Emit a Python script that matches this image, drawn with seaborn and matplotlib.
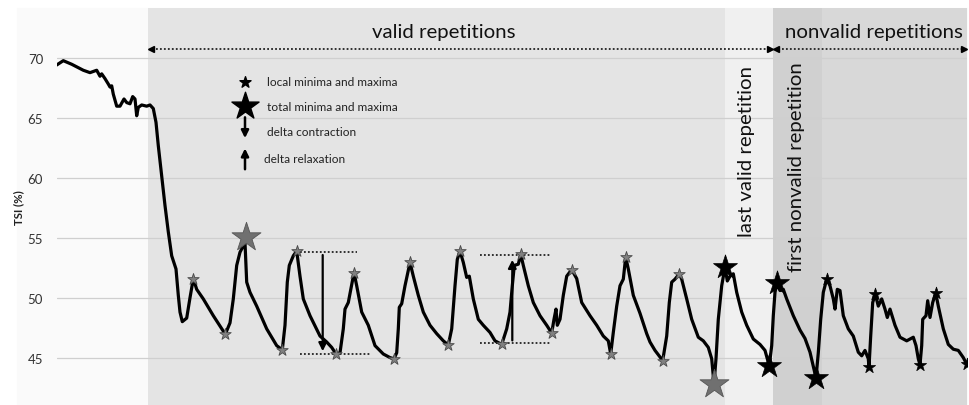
import matplotlib
matplotlib.use('Agg')
import matplotlib.pyplot as plt
import matplotlib.patches as mpatches
import seaborn as sns
import pandas as pd

# TSI trace (time in sample units, TSI in %)
t_vals = [56.7, 63.3, 71.7, 83.3, 90, 96.7, 100, 101.7, 105, 108.3, 110, 111.7, 113.3, 116.7, 120, 124,
          126.7, 130, 132.7, 135, 136.7, 138.3, 141.7, 146.7, 150, 153.3, 156, 158.3, 161.7, 165, 168.3,
          171.7, 176, 178.3, 180, 182.3, 186.7, 190, 193.3, 196.7, 203.3, 213.3, 225.3, 230, 233.3, 236.7,
          240, 245, 246.7, 250, 256.7, 266.7, 276.7, 282.3, 285, 287.3, 289.3, 293.3, 296.7, 300, 303.3,
          310, 320, 326.7, 331.7, 336, 340, 343.3, 345, 348.3, 354, 356.7, 361.7, 368.3, 375, 383.3, 390,
          394, 396.7, 398.3, 399.3, 401.7, 405, 410, 413.3, 418.3, 423.3, 430, 436.7, 443.3, 448.3, 451.7,
          455, 457.3, 460, 463.3, 466.7, 469.3, 473.3, 478.3, 483.3, 490, 495, 501.7, 506.7, 510, 512.3,
          514.3, 518.3, 520.7, 523.3, 528.3, 533.3, 540, 546.7, 551.7, 554, 556, 557.3, 560, 563.3, 566.7,
          571.7, 576.7, 581.7, 590, 596.7, 603.3, 608.3, 610.7, 613.3, 616.7, 620, 623.3, 625.7, 628.3,
          633.3, 640, 646.7, 650, 655, 662.7, 666.7, 669.3, 671.7, 675, 679.3, 681.7, 686.7, 691.7, 698.3,
          703.3, 708.3, 711.7, 713.3, 714, 716, 718.3, 721.7, 725, 727.3, 730, 733.3, 736.7, 741.7, 746.7,
          753.3, 760, 765, 769.3, 771.7, 773.3, 775, 776.7, 780, 783.3, 786.7, 793.3, 800, 805, 810, 816,
          818.3, 820.7, 823.3, 826.7, 830, 833.3, 835, 837.3, 840, 843.3, 848.3, 853.3, 858.3, 861.7, 865,
          868.3, 869, 870.7, 872.7, 875.3, 878.3, 881.7, 885, 887.3, 890, 895, 900, 906.7, 913.3, 916,
          918.3, 920, 921.7, 922.7, 926, 927.7, 930, 932.7, 935.7, 938.3, 943.3, 948.3, 953.3, 958.3,
          963.3, 966.7]
tsi_vals = [69.44, 69.8, 69.5, 69.0, 68.8, 69.0, 68.5, 68.7, 68.3, 67.85, 67.6, 67.7, 67.0, 66.0, 66.0, 66.6,
            66.3, 66.2, 66.8, 66.6, 65.2, 65.9, 66.1, 66.0, 66.1, 65.8, 64.65, 62.7, 60.2, 57.7, 55.5,
            53.5, 52.4, 50.2, 48.8, 48.0, 48.3, 50.0, 51.6, 50.7, 49.9, 48.5, 46.95, 47.9, 49.9, 52.7,
            53.8, 54.6, 51.3, 50.45, 49.3, 47.4, 46.0, 45.65, 47.7, 51.3, 52.7, 53.5, 53.9, 51.8, 49.9,
            48.5, 46.8, 46.3, 45.85, 45.3, 45.4, 47.4, 49.05, 49.6, 52.1, 51.0, 48.8, 47.7, 46.0, 45.3, 45.0,
            44.9, 45.4, 47.4, 49.2, 49.5, 51.0, 52.95, 51.8, 50.2, 48.8, 47.7, 47.0, 46.4, 46.05, 47.4,
            51.0, 53.2, 53.9, 52.95, 51.7, 51.8, 49.9, 48.2, 47.7, 47.1, 46.4, 46.1, 47.4, 48.8, 51.0,
            52.7, 52.8, 53.65, 52.7, 51.0, 49.6, 48.5, 47.7, 47.05, 48.2, 49.05, 47.7, 48.2, 50.2, 51.8,
            52.35, 51.6, 49.6, 48.5, 47.7, 46.8, 46.4, 45.3, 47.1, 49.3, 51.0, 51.55, 53.4, 52.4,
            50.2, 48.7, 47.0, 46.3, 45.6, 44.75, 46.8, 49.6, 51.3, 51.55, 52.0, 51.55, 49.9, 48.2, 46.7,
            46.4, 45.85, 44.9, 43.5, 42.8, 44.9, 48.2, 51.0, 52.55, 51.4, 51.8, 52.0, 50.45, 48.8, 47.7,
            46.55, 46.1, 45.6, 44.3, 46.0, 48.5, 50.45, 51.2, 50.6, 50.7, 49.9, 48.5, 47.3, 46.6, 45.45, 43.3,
            45.4, 48.2, 50.45, 51.55, 51.0, 49.9, 49.05, 50.7, 50.6, 48.5, 47.4, 46.8, 45.45, 45.15, 45.6,
            44.9, 44.2, 46.8, 49.6, 50.3, 49.3, 49.9, 49.05, 48.35, 49.05, 47.7, 46.7, 46.4, 46.7, 46.0,
            44.9, 44.4, 46.0, 48.2, 48.5, 49.75, 48.35, 49.6, 50.4, 49.3, 47.4, 46.1, 45.7, 45.6,
            45.0, 44.45]

# extrema markers
local_t = [193.3, 225.3, 282.3, 296.7, 336, 354, 394, 410, 448.3, 460, 501.7, 520.7, 551.7, 571.7,
           610.7, 625.7, 662.7, 679.3]
local_v = [51.6, 46.95, 45.65, 53.9, 45.3, 52.1, 44.9, 52.95, 46.05, 53.9, 46.1, 53.65, 47.05, 52.35,
           45.3, 53.4, 44.75, 52.0]
total_t = [245.7, 714]
total_v = [55.1, 42.8]
last_t = [725, 769.3, 776.7, 816]
last_v = [52.55, 44.3, 51.2, 43.3]
nonvalid_t = [826.7, 869, 875.3, 920, 935.7, 966.7]
nonvalid_v = [51.55, 44.2, 50.3, 44.4, 50.4, 44.45]

# phase boundaries
valid_start, last_valid_start, nonvalid_start, first_nonvalid_end, t_end = 148, 725, 773, 822, 967

# delta contraction / relaxation
contr_t, contr_top, contr_bot = 322.7, 53.8, 45.3
relax_t, relax_bot, relax_top = 512.3, 46.2, 53.4

sns.set_theme(style='white')
plt.rcParams['font.family'] = ['Lato', 'DejaVu Sans']

fig = plt.figure(figsize=(9.69, 4.06), dpi=100, facecolor='white')
bg = mpatches.Rectangle((17 / 969, 0), (967 - 17) / 969, 1 - 9 / 406,
                        transform=fig.transFigure, color='#fafafa', zorder=-10)
fig.add_artist(bg)
ax = fig.add_axes([57 / 969, 0, (967 - 57) / 969, 1 - 9 / 406])
ax.set_facecolor('#fafafa')

ax.axvspan(valid_start, last_valid_start, color='#e4e4e4', lw=0, zorder=0)
ax.axvspan(last_valid_start, nonvalid_start, color='#f0f0f0', lw=0, zorder=0)
ax.axvspan(nonvalid_start, first_nonvalid_end, color='#d0d0d0', lw=0, zorder=0)
ax.axvspan(first_nonvalid_end, t_end, color='#d8d8d8', lw=0, zorder=0)

for v in [45, 50, 55, 60, 65, 70]:
    ax.axhline(v, color='#cfcfcf', lw=0.9, zorder=1)

df = pd.DataFrame({'t': t_vals, 'TSI': tsi_vals})
sns.lineplot(data=df, x='t', y='TSI', color='black', lw=2.3, ax=ax, zorder=3, sort=False)

sns.scatterplot(x=local_t, y=local_v, marker='*', s=75, color='#808080', edgecolor='#4a4a4a',
                linewidth=0.6, ax=ax, zorder=4)
sns.scatterplot(x=total_t, y=total_v, marker='*', s=480, color='#707070', edgecolor='#555555',
                linewidth=0.6, ax=ax, zorder=4)
sns.scatterplot(x=last_t, y=last_v, marker='*', s=330, color='black', edgecolor='black',
                linewidth=0.5, ax=ax, zorder=4)
sns.scatterplot(x=nonvalid_t, y=nonvalid_v, marker='*', s=85, color='black', edgecolor='black',
                linewidth=0.5, ax=ax, zorder=4)

# delta lines
dot = dict(color='#222222', lw=1.3, ls=(0, (1, 1.2)), zorder=2)
ax.plot([300, 357], [contr_top, contr_top], **dot)
ax.plot([300, 370], [contr_bot, contr_bot], **dot)
ax.plot([480, 551], [relax_top + 0.15, relax_top + 0.15], **dot)
ax.plot([480, 551], [relax_bot, relax_bot], **dot)
ax.annotate('', xy=(contr_t, contr_bot), xytext=(contr_t, contr_top),
            arrowprops=dict(arrowstyle='-|>', color='black', lw=1.6, mutation_scale=12), zorder=5)
ax.annotate('', xy=(relax_t, relax_top), xytext=(relax_t, relax_bot),
            arrowprops=dict(arrowstyle='-|>', color='black', lw=1.6, mutation_scale=12), zorder=5)

# legend drawn by hand
ax.scatter([245], [68.05], marker='*', s=70, color='black', zorder=5)
ax.scatter([245], [66.04], marker='*', s=420, color='black', zorder=5)
ax.annotate('', xy=(245, 63.1), xytext=(245, 65.3),
            arrowprops=dict(arrowstyle='-|>', color='black', lw=1.8, mutation_scale=11))
ax.annotate('', xy=(245, 62.7), xytext=(245, 60.5),
            arrowprops=dict(arrowstyle='-|>', color='black', lw=1.8, mutation_scale=11))
leg_font = dict(fontsize=8.6, color='#222222', va='center', ha='left')
ax.text(267, 68.1, 'local minima and maxima', **leg_font)
ax.text(267, 66.0, 'total minima and maxima', **leg_font)
ax.text(267, 63.85, 'delta contraction', **leg_font)
ax.text(264, 61.6, 'delta relaxation', **leg_font)

# phase annotations
arrow_y = 70.78
ax.plot([valid_start + 4, nonvalid_start - 4], [arrow_y, arrow_y], **dot)
ax.plot([nonvalid_start + 5, t_end - 3], [arrow_y, arrow_y], **dot)
ax.plot([valid_start + 3], [arrow_y], marker='<', ms=4.5, color='black', zorder=5)
ax.plot([nonvalid_start - 3], [arrow_y], marker='>', ms=4.5, color='black', zorder=5)
ax.plot([nonvalid_start + 3], [arrow_y], marker='<', ms=4.5, color='black', zorder=5)
ax.plot([t_end - 3], [arrow_y], marker='>', ms=4.5, color='black', zorder=5)
big = dict(fontsize=14.7, color='#111111', ha='center', va='center')
ax.text(444, 72.25, 'valid repetitions', **big)
ax.text(874, 72.25, 'nonvalid repetitions', **big)
ax.text(746.7, 69.4, 'last valid repetition', rotation=90, va='top', ha='center',
        fontsize=14.7, color='#111111')
ax.text(796.7, 69.75, 'first nonvalid repetition', rotation=90, va='top', ha='center',
        fontsize=14.7, color='#111111')

ax.set_xlim(57, 967)
ax.set_ylim(41.04, 74.2)
ax.set_xticks([])
ax.set_yticks([45, 50, 55, 60, 65, 70])
ax.tick_params(axis='y', length=0, pad=10, labelsize=9.5, labelcolor='#333333')
ax.set_xlabel('')
ax.set_ylabel('TSI (%)', fontsize=8.3, fontweight='bold', color='#222222', labelpad=8)
ax.yaxis.set_label_coords(-33 / 910, (406 - 208) / 397)
for s in ax.spines.values():
    s.set_visible(False)

fig.savefig('out.png', dpi=100, facecolor='white')
